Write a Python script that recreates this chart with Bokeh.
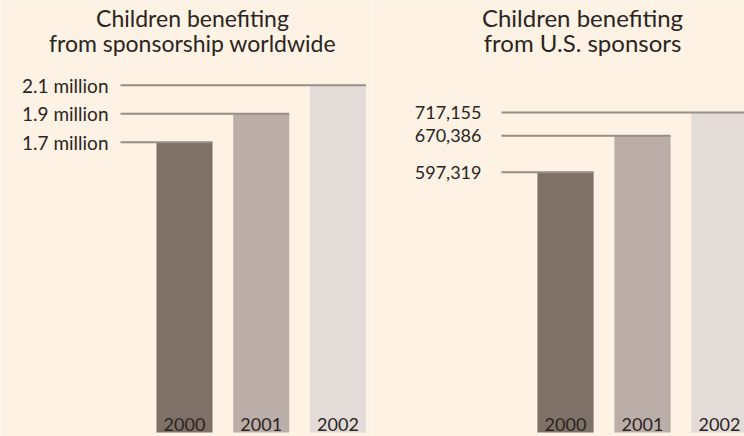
from bokeh.plotting import figure
from bokeh.layouts import row
from bokeh.models import Range1d, Label
from bokeh.core.properties import value
from bokeh.embed import file_html
from bokeh.resources import INLINE

# ---- data ----
years = ["2000", "2001", "2002"]
world_values = [1.7, 1.9, 2.1]            # millions
world_labels = ["1.7 million", "1.9 million", "2.1 million"]
us_values = [597319, 670386, 717155]
us_labels = ["597,319", "670,386", "717,155"]
world_title = ["Children benefiting", "from sponsorship worldwide"]
us_title = ["Children benefiting", "from U.S. sponsors"]

# ---- style ----
BG = "#fdf2e4"
BAR_COLORS = ["#7f7068", "#bbaea9", "#e2dbd8"]
LINE_COLOR = "#9a8d86"
TEXT_COLOR = "#2b2522"
FONT = "Lato"
W, H = 372, 436
BAR_W = 0.73


def panel(values, labels, title, x_px_per_unit, first_bar_px, line_start_px,
          y_px_per_unit, base_value, standoff, title_x_px, title_size, tick_size):
    # scale set-up: frame covers the whole figure, bar baseline at 432px
    x_start = -first_bar_px / x_px_per_unit
    x_end = x_start + W / x_px_per_unit
    y_start = base_value - 4 / y_px_per_unit
    y_end = base_value + 432 / y_px_per_unit
    line_x0 = x_start + line_start_px / x_px_per_unit

    def y_at(px):
        return base_value + (432 - px) / y_px_per_unit

    p = figure(width=W, height=H, output_backend="svg", toolbar_location=None,
               x_range=Range1d(x_start, x_end), y_range=Range1d(y_start, y_end),
               min_border=0, background_fill_color=BG, border_fill_color=BG,
               outline_line_color=None)
    p.axis.visible = False
    p.grid.visible = False

    idx = list(range(len(values)))
    n = len(values)
    p.vbar(x=idx, top=values, bottom=base_value, width=BAR_W,
           fill_color=BAR_COLORS, line_color=None)
    p.segment(x0=[line_x0] * n, y0=values,
              x1=[i + BAR_W / 2 for i in idx], y1=values,
              line_color=LINE_COLOR, line_width=2)
    # value labels to the left of the leader lines
    p.text(x=[line_x0] * n, y=values, text=labels, text_align="right",
           text_baseline="middle", x_offset=-standoff, text_font=value(FONT),
           text_font_size=tick_size, text_color=TEXT_COLOR)
    # year labels inside the bars, near their foot
    p.text(x=idx, y=[y_at(424)] * n, text=years, text_align="center",
           text_baseline="middle", text_font=value(FONT),
           text_font_size="18px", text_color=TEXT_COLOR)

    tx = x_start + title_x_px / x_px_per_unit
    for line, mid_px in zip(title, [17, 42]):
        p.add_layout(Label(x=tx, y=y_at(mid_px), text=line, text_align="center",
                           text_baseline="middle", text_font=FONT,
                           text_font_size=title_size, text_color=TEXT_COLOR))
    return p


p1 = panel(world_values, world_labels, world_title, 76.75, 184, 120,
           142.5, -0.336, 12, 192, "23px", "19px")
p2 = panel(us_values, us_labels, us_title, 77.0, 193, 129,
           1 / 1998.4, 77428, 20, 210, "24px", "18px")

p = row(p1, p2, spacing=0)
open("out.html", "w").write(file_html(p, INLINE))
